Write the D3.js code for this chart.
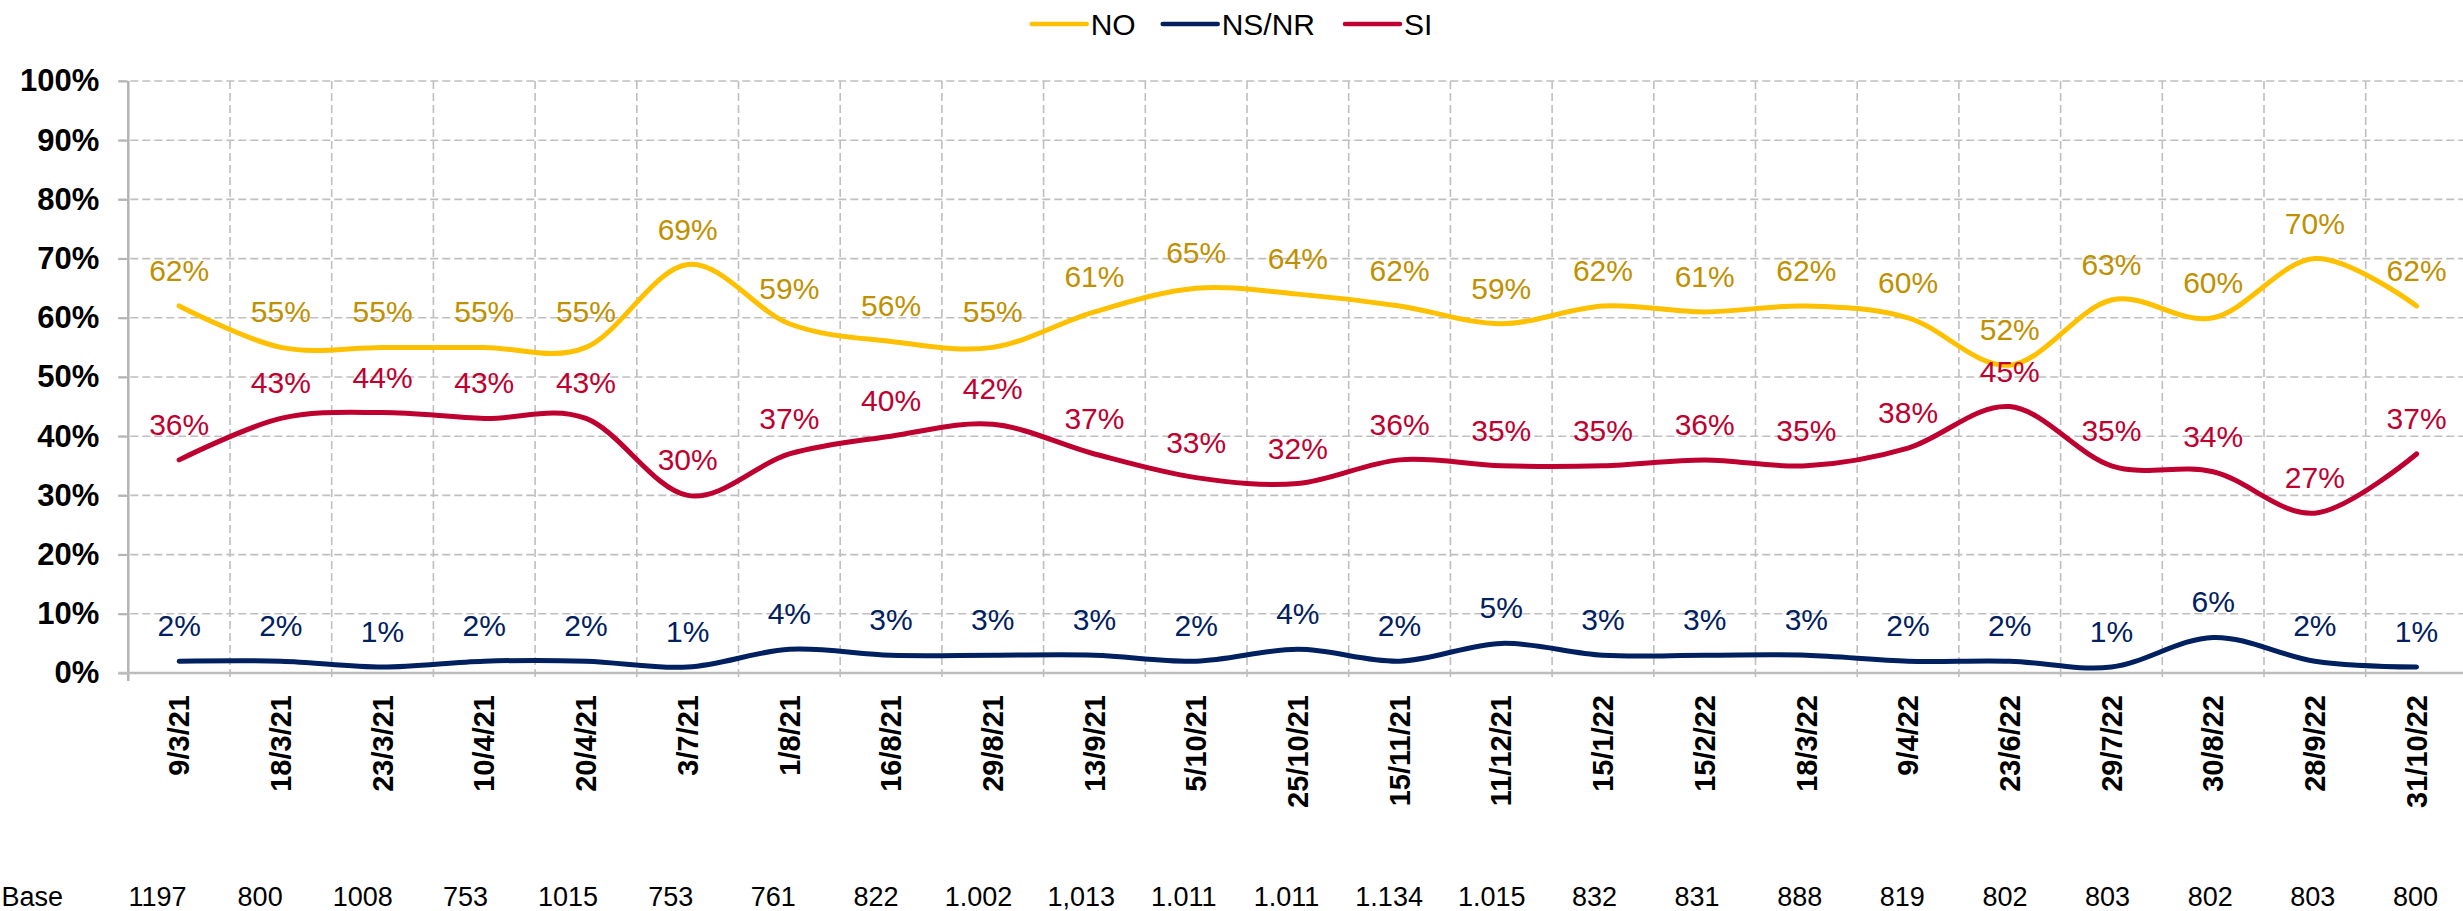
<!DOCTYPE html>
<html>
<head>
<meta charset="utf-8">
<script src="https://cdnjs.cloudflare.com/ajax/libs/d3/7.8.5/d3.min.js"></script>
<style>
    body { margin: 0; background: #fff; }
    svg text { font-family: "Liberation Sans", Arial, sans-serif; }
</style>
</head>
<body>
<div id="chart"></div>
<script>
var width = 2463,
    height = 911,
    margin = {
        top: 81,
        left: 128.3,
        bottom: 673
    };

var bandWidth = 101.7;

// fechas de las encuestas
var dates = ['9/3/21', '18/3/21', '23/3/21', '10/4/21', '20/4/21', '3/7/21', '1/8/21',
    '16/8/21', '29/8/21', '13/9/21', '5/10/21', '25/10/21', '15/11/21', '11/12/21',
    '15/1/22', '15/2/22', '18/3/22', '9/4/22', '23/6/22', '29/7/22', '30/8/22',
    '28/9/22', '31/10/22'];

var valuesNO = [62, 55, 55, 55, 55, 69, 59, 56, 55, 61, 65, 64, 62, 59, 62, 61, 62, 60, 52, 63, 60, 70, 62];
var valuesNSNR = [2, 2, 1, 2, 2, 1, 4, 3, 3, 3, 2, 4, 2, 5, 3, 3, 3, 2, 2, 1, 6, 2, 1];
var valuesSI = [36, 43, 44, 43, 43, 30, 37, 40, 42, 37, 33, 32, 36, 35, 35, 36, 35, 38, 45, 35, 34, 27, 37];

var bases = ['1197', '800', '1008', '753', '1015', '753', '761', '822', '1.002', '1,013',
    '1.011', '1.011', '1.134', '1.015', '832', '831', '888', '819', '802', '803',
    '802', '803', '800'];

var yTicks = [0, 10, 20, 30, 40, 50, 60, 70, 80, 90, 100];

var series = [
    { name: 'NO', values: valuesNO, color: '#FFC000', labelColor: '#BF9000' },
    { name: 'NS/NR', values: valuesNSNR, color: '#002060', labelColor: '#002060' },
    { name: 'SI', values: valuesSI, color: '#BE0030', labelColor: '#BE0030' }
];

var xScale = d3.scaleBand()
    .domain(dates)
    .range([margin.left, margin.left + dates.length * bandWidth])
    .padding(0);

var yScale = d3.scaleLinear()
    .domain([0, 100])
    .range([margin.bottom, margin.top]);

var baseScale = d3.scalePoint()
    .domain(d3.range(bases.length))
    .range([157.5, 2415.5]);

var cx = function(d){ return xScale(d) + xScale.bandwidth() / 2; };

var svg = d3.select('#chart').append('svg')
    .attr('width', width)
    .attr('height', height);

//horizontal grid
svg.append('g')
    .attr('class', 'grid-h')
    .selectAll('line')
    .data(yTicks.slice(1))
    .enter().append('line')
    .attr('x1', margin.left - 10)
    .attr('x2', width)
    .attr('y1', function(d){ return yScale(d); })
    .attr('y2', function(d){ return yScale(d); })
    .attr('stroke', '#bfbfbf')
    .attr('stroke-width', 1.6)
    .attr('stroke-dasharray', '8,4');

//vertical grid, also used as tick marks under the x axis
svg.append('g')
    .attr('class', 'grid-v')
    .selectAll('line')
    .data(dates.slice(1))
    .enter().append('line')
    .attr('x1', function(d){ return xScale(d); })
    .attr('x2', function(d){ return xScale(d); })
    .attr('y1', margin.top)
    .attr('y2', margin.bottom + 8)
    .attr('stroke', '#bfbfbf')
    .attr('stroke-width', 1.6)
    .attr('stroke-dasharray', '8,4');

//y axis
var yAxis = d3.axisLeft(yScale)
    .tickValues(yTicks)
    .tickSize(10)
    .tickPadding(19)
    .tickFormat(function(d){ return d + '%'; });

var gy = svg.append('g')
    .attr('class', 'y axis')
    .attr('transform', 'translate(' + margin.left + ',0)')
    .call(yAxis);

gy.select('.domain').remove();
gy.selectAll('line').attr('stroke', '#b4b4b4').attr('stroke-width', 2);
gy.selectAll('text')
    .attr('fill', '#000')
    .style('font-size', '31px')
    .style('font-weight', 'bold');

svg.append('line')
    .attr('x1', margin.left)
    .attr('x2', margin.left)
    .attr('y1', margin.top)
    .attr('y2', margin.bottom + 8)
    .attr('stroke', '#b4b4b4')
    .attr('stroke-width', 2.5);

//x axis line at 0%
svg.append('line')
    .attr('x1', margin.left - 10)
    .attr('x2', width)
    .attr('y1', yScale(0))
    .attr('y2', yScale(0))
    .attr('stroke', '#bdbdbd')
    .attr('stroke-width', 2.5);

//date labels
svg.append('g')
    .attr('class', 'x labels')
    .selectAll('text')
    .data(dates)
    .enter().append('text')
    .attr('transform', function(d){ return 'translate(' + cx(d) + ',695) rotate(-90)'; })
    .attr('text-anchor', 'end')
    .attr('dy', '0.35em')
    .style('font-size', '29px')
    .style('font-weight', 'bold')
    .attr('fill', '#000')
    .text(function(d){ return d; });

//lines
var line = d3.line()
    .x(function(d, i){ return cx(dates[i]); })
    .y(function(d){ return yScale(d); })
    .curve(d3.curveCardinal.tension(0));

svg.append('g')
    .attr('class', 'lines')
    .selectAll('path')
    .data(series)
    .enter().append('path')
    .attr('d', function(s){ return line(s.values); })
    .attr('fill', 'none')
    .attr('stroke', function(s){ return s.color; })
    .attr('stroke-width', 5)
    .attr('stroke-linecap', 'round');

//data labels
series.forEach(function(s){
    svg.append('g')
        .attr('class', 'labels')
        .selectAll('text')
        .data(s.values)
        .enter().append('text')
        .attr('x', function(d, i){ return cx(dates[i]); })
        .attr('y', function(d){ return yScale(d) - 25; })
        .attr('text-anchor', 'middle')
        .attr('fill', s.labelColor)
        .style('font-size', '30px')
        .text(function(d){ return d + '%'; });
});

//base row
svg.append('text')
    .attr('x', 1.5)
    .attr('y', 906)
    .style('font-size', '27px')
    .attr('fill', '#000')
    .text('Base');

svg.append('g')
    .attr('class', 'base')
    .selectAll('text')
    .data(bases)
    .enter().append('text')
    .attr('x', function(d, i){ return baseScale(i); })
    .attr('y', 906)
    .attr('text-anchor', 'middle')
    .style('font-size', '27px')
    .attr('fill', '#000')
    .text(function(d){ return d; });

//legend
var legendX = [1031.7, 1162.7, 1345];
var legend = svg.append('g')
    .attr('class', 'legend')
    .selectAll('g')
    .data(series)
    .enter().append('g')
    .attr('transform', function(d, i){ return 'translate(' + legendX[i] + ',24)'; });

legend.append('line')
    .attr('x1', 0)
    .attr('x2', 55)
    .attr('stroke', function(d){ return d.color; })
    .attr('stroke-width', 4.5)
    .attr('stroke-linecap', 'round');

legend.append('text')
    .attr('x', 59)
    .attr('dy', '0.36em')
    .style('font-size', '30px')
    .attr('fill', '#000')
    .text(function(d){ return d.name; });
</script>
</body>
</html>
